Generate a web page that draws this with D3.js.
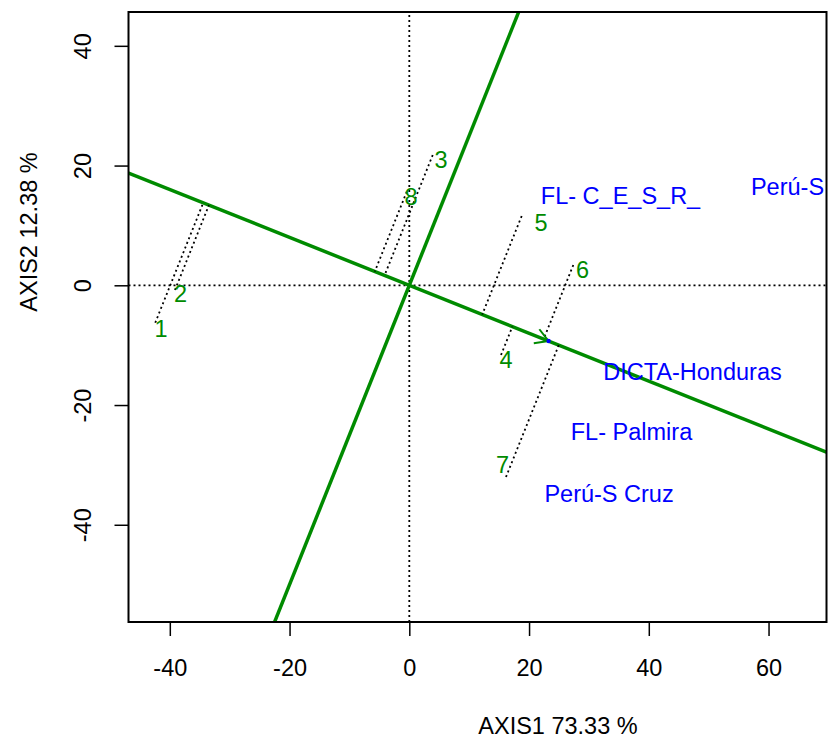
<!DOCTYPE html>
<html>
<head>
<meta charset="utf-8">
<script src="https://cdn.jsdelivr.net/npm/d3@7"></script>
<style>
  body { margin: 0; background: #fff; }
  svg { display: block; font-family: "Liberation Sans", Arial, sans-serif; }
  .axis text { font-size: 23.5px; fill: #000; font-family: "Liberation Sans", Arial, sans-serif; }
  .axis line { stroke: #000; stroke-width: 1.5; }
</style>
</head>
<body>
<div id="chart"></div>
<script>
var genotypes = ['1', '2', '3', '4', '5', '6', '7', '8']
// where the dotted projection lines start
var genoX = [-42.43, -39.14, 3.91, 15.32, 18.77, 27.39, 16.15, -0.43]
var genoY = [-6.25, -0.79, 21.76, -11.64, 11.58, 3.39, -32.02, 15.63]
// where the genotype numbers are written
var genoLabelX = [-41.47, -38.22, 5.29, 16.15, 21.99, 28.93, 15.57, 0.28]
var genoLabelY = [-7.22, -1.45, 20.93, -12.48, 10.41, 2.56, -29.96, 14.75]

var envNames = ['FL- C_E_S_R_', 'Perú-S', 'DICTA-Honduras', 'FL- Palmira', 'Perú-S Cruz']
var envX = [35.28, 63.17, 47.30, 37.11, 33.36]
var envY = [14.98, 16.49, -14.41, -24.44, -34.79]

var meanEnv = [23.27, -9.31]

var xTicks = [-40, -20, 0, 20, 40, 60]
var yTicks = [-40, -20, 0, 20, 40]
var xLim = [-46.9, 69.68]
var yLim = [-56.24, 45.65]
var xTitle = 'AXIS1 73.33 %'
var yTitle = 'AXIS2 12.38 %'

var green = '#008B00'
var blue = '#0000FF'
var dots = '2,3'
var box = { left: 128.5, right: 826.5, top: 12, bottom: 622 }

var svg = d3.select('#chart').append('svg')
    .attr('width', 828)
    .attr('height', 741)

var x = d3.scaleLinear().domain(xLim).range([box.left, box.right])
var y = d3.scaleLinear().domain(yLim).range([box.bottom, box.top])

svg.append('clipPath')
    .attr('id', 'plotclip')
    .append('rect')
    .attr('x', box.left)
    .attr('y', box.top)
    .attr('width', box.right - box.left)
    .attr('height', box.bottom - box.top)

var g = svg.append('g').attr('clip-path', 'url(#plotclip)')

var line = d3.line()
    .x(function(d) { return x(d[0]) })
    .y(function(d) { return y(d[1]) })

// dotted reference lines through the origin
g.append('path')
    .attr('d', line([[xLim[0], 0], [xLim[1], 0]]))
    .attr('stroke', '#000').attr('stroke-width', 1.8)
    .attr('stroke-dasharray', dots).attr('fill', 'none')
g.append('path')
    .attr('d', line([[0, yLim[0]], [0, yLim[1]]]))
    .attr('stroke', '#000').attr('stroke-width', 1.8)
    .attr('stroke-dasharray', dots).attr('fill', 'none')

// average environment axis and its perpendicular
var k = 20
g.append('path')
    .attr('d', line([[-k * meanEnv[0], -k * meanEnv[1]], [k * meanEnv[0], k * meanEnv[1]]]))
    .attr('stroke', green).attr('stroke-width', 3.5).attr('fill', 'none')
g.append('path')
    .attr('d', line([[k * meanEnv[1], -k * meanEnv[0]], [-k * meanEnv[1], k * meanEnv[0]]]))
    .attr('stroke', green).attr('stroke-width', 3.5).attr('fill', 'none')

// projections of the genotypes on the axis
var mm = meanEnv[0] * meanEnv[0] + meanEnv[1] * meanEnv[1]
var genoData = genotypes.map(function(name, i) {
    var t = (genoX[i] * meanEnv[0] + genoY[i] * meanEnv[1]) / mm
    return { name: name, x: genoX[i], y: genoY[i], px: t * meanEnv[0], py: t * meanEnv[1],
             lx: genoLabelX[i], ly: genoLabelY[i] }
})

g.selectAll('.proj')
    .data(genoData)
    .enter().append('path')
    .attr('class', 'proj')
    .attr('d', function(d) { return line([[d.x, d.y], [d.px, d.py]]) })
    .attr('stroke', '#000').attr('stroke-width', 1.8)
    .attr('stroke-dasharray', dots).attr('fill', 'none')

// arrow head at the average environment
var tipX = x(meanEnv[0]), tipY = y(meanEnv[1])
var ang = Math.atan2(tipY - y(0), tipX - x(0))
var headLen = 15
;[-Math.PI / 6, Math.PI / 6].forEach(function(a) {
    g.append('line')
        .attr('x1', tipX).attr('y1', tipY)
        .attr('x2', tipX - headLen * Math.cos(ang + a))
        .attr('y2', tipY - headLen * Math.sin(ang + a))
        .attr('stroke', green).attr('stroke-width', 2)
})
g.append('circle')
    .attr('cx', tipX).attr('cy', tipY).attr('r', 2.2)
    .attr('fill', blue)

g.selectAll('.geno')
    .data(genoData)
    .enter().append('text')
    .attr('class', 'geno')
    .attr('x', function(d) { return x(d.lx) })
    .attr('y', function(d) { return y(d.ly) })
    .attr('dy', '0.36em')
    .attr('text-anchor', 'middle')
    .attr('fill', green)
    .style('font-size', '23.5px')
    .text(function(d) { return d.name })

g.selectAll('.env')
    .data(envNames)
    .enter().append('text')
    .attr('class', 'env')
    .attr('x', function(d, i) { return x(envX[i]) })
    .attr('y', function(d, i) { return y(envY[i]) })
    .attr('dy', '0.36em')
    .attr('text-anchor', 'middle')
    .attr('fill', blue)
    .style('font-size', '23.5px')
    .text(function(d) { return d })

// axes
var xAxis = svg.append('g')
    .attr('class', 'axis')
    .attr('transform', 'translate(0,' + box.bottom + ')')
    .call(d3.axisBottom(x).tickValues(xTicks).tickSize(14).tickPadding(23).tickFormat(function(d) { return String(d) }))
xAxis.select('.domain').remove()

var yAxis = svg.append('g')
    .attr('class', 'axis')
    .attr('transform', 'translate(' + box.left + ',0)')
    .call(d3.axisLeft(y).tickValues(yTicks).tickSize(14).tickFormat(function(d) { return String(d) }))
yAxis.select('.domain').remove()
yAxis.selectAll('text')
    .attr('x', null).attr('dy', null)
    .attr('transform', 'translate(-37.5,0) rotate(-90)')
    .style('text-anchor', 'middle')

svg.append('rect')
    .attr('x', box.left).attr('y', box.top)
    .attr('width', box.right - box.left)
    .attr('height', box.bottom - box.top)
    .attr('fill', 'none').attr('stroke', '#000').attr('stroke-width', 2)

svg.append('text')
    .attr('x', 558).attr('y', 734)
    .attr('text-anchor', 'middle')
    .style('font-size', '23.5px')
    .text(xTitle)

svg.append('text')
    .attr('transform', 'translate(37,232) rotate(-90)')
    .attr('text-anchor', 'middle')
    .style('font-size', '23.5px')
    .text(yTitle)
</script>
</body>
</html>
